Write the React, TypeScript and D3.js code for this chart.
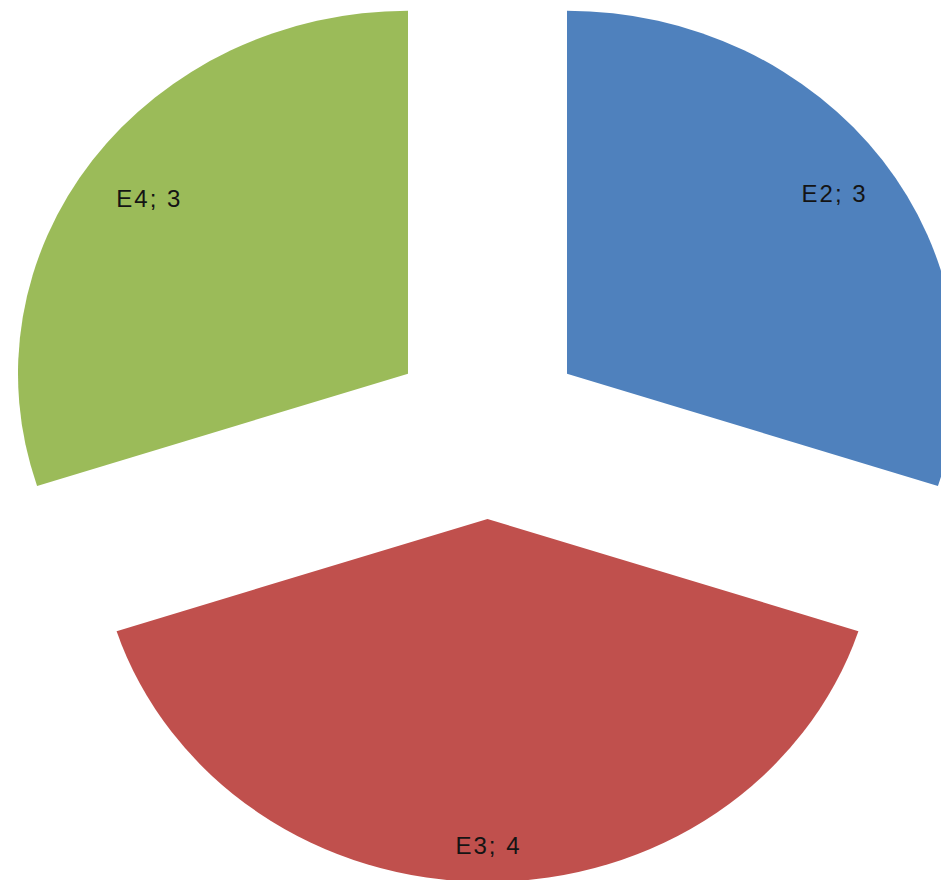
import React from "react";
import * as d3 from "d3";

const categories = ["E2", "E3", "E4"];
const values = [3, 4, 3];
const colors = ["#4F81BD", "#C0504D", "#9BBB59"];

const W = 941;
const H = 880;
const CX = 487.5;
const CY = 427.5;
const RX = 390;
const RY = 363;
const EXPLODE = 0.252;
const LABEL_F = [0.845, 0.9, 0.823];

export default function App() {
  const pie = d3
    .pie<number>()
    .sort(null)
    .startAngle(0)
    .endAngle(2 * Math.PI)(values);
  const arc = d3.arc<d3.PieArcDatum<number>>().innerRadius(0).outerRadius(RY);
  const sx = RX / RY;

  return (
    <svg
      width={W}
      height={H}
      style={{ position: "fixed", left: 0, top: 0, background: "#fff" }}
    >
      {pie.map((p, i) => {
        const mid = (p.startAngle + p.endAngle) / 2;
        const ux = Math.sin(mid);
        const uy = -Math.cos(mid);
        const ax = CX + EXPLODE * ux * RX;
        const ay = CY + EXPLODE * uy * RY;
        const lx = ax + LABEL_F[i] * ux * RX;
        const ly = ay + LABEL_F[i] * uy * RY;
        return (
          <g key={categories[i]}>
            <g transform={`translate(${ax},${ay}) scale(${sx},1)`}>
              <path d={arc(p) || ""} fill={colors[i]} />
            </g>
            <text
              x={lx + 1}
              y={ly}
              textAnchor="middle"
              dominantBaseline="central"
              fontFamily="'Liberation Sans', Arial, sans-serif"
              fontSize={24}
              letterSpacing={2}
              fill="#141414"
            >
              {`${categories[i]}; ${values[i]}`}
            </text>
          </g>
        );
      })}
    </svg>
  );
}
